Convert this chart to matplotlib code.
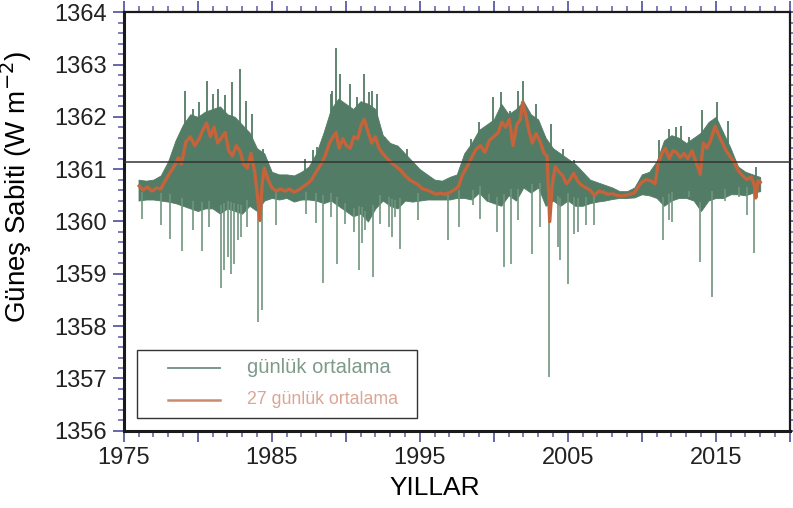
import numpy as np
import matplotlib
matplotlib.use('Agg')
import matplotlib.pyplot as plt
from matplotlib.patches import Rectangle
from matplotlib.ticker import MultipleLocator, FixedLocator

plt.rcParams['font.family'] = ['Liberation Sans', 'DejaVu Sans']

# GÜNLÜK ORTALAMA - ana bant (0.5 yıllık düğümler, alt/üst zarf)
bant_yil = np.arange(1976.0, 2018.01, 0.5)
bant_ust = [1360.80, 1360.78, 1360.80, 1360.88, 1361.15, 1361.55, 1361.85, 1362.05, 1362.00, 1362.10,
            1362.15, 1362.20, 1362.05, 1362.00, 1361.85, 1361.70, 1361.40, 1361.30, 1360.95, 1360.90,
            1360.90, 1360.88, 1360.95, 1361.05, 1361.30, 1361.70, 1362.15, 1362.35, 1362.25, 1362.15,
            1362.30, 1362.25, 1362.15, 1361.65, 1361.50, 1361.45, 1361.30, 1361.15, 1361.00, 1360.90,
            1360.80, 1360.78, 1360.85, 1360.90, 1361.30, 1361.50, 1361.75, 1361.85, 1361.95, 1362.25,
            1362.05, 1362.15, 1362.30, 1362.05, 1361.95, 1361.60, 1361.40, 1361.30, 1361.20, 1361.10,
            1360.95, 1360.80, 1360.75, 1360.70, 1360.65, 1360.58, 1360.58, 1360.65, 1360.90, 1360.95,
            1361.15, 1361.55, 1361.65, 1361.60, 1361.50, 1361.60, 1361.70, 1361.90, 1362.00, 1361.70,
            1361.40, 1361.05, 1360.95, 1360.90, 1360.85]
bant_alt = [1360.40, 1360.42, 1360.42, 1360.40, 1360.38, 1360.35, 1360.30, 1360.25, 1360.20, 1360.25,
            1360.25, 1360.15, 1360.25, 1360.20, 1360.15, 1360.30, 1360.20, 1360.40, 1360.45, 1360.42,
            1360.45, 1360.38, 1360.42, 1360.42, 1360.40, 1360.35, 1360.40, 1360.30, 1360.20, 1360.10,
            1360.15, 1360.00, 1360.25, 1360.40, 1360.30, 1360.25, 1360.40, 1360.38, 1360.40, 1360.42,
            1360.42, 1360.42, 1360.42, 1360.45, 1360.45, 1360.42, 1360.55, 1360.40, 1360.35, 1360.30,
            1360.50, 1360.40, 1360.65, 1360.55, 1360.65, 1360.30, 1360.40, 1360.30, 1360.40, 1360.30,
            1360.30, 1360.35, 1360.38, 1360.40, 1360.43, 1360.45, 1360.45, 1360.46, 1360.52, 1360.50,
            1360.45, 1360.30, 1360.40, 1360.45, 1360.45, 1360.40, 1360.20, 1360.40, 1360.45, 1360.45,
            1360.52, 1360.52, 1360.50, 1360.55, 1360.58]

# GÜNLÜK ORTALAMA - sivri değerler (aşağı ve yukarı)
asagi_yil = [1976.25, 1977.53, 1978.13, 1978.94, 1979.66, 1980.29, 1980.78, 1981.57, 1981.79, 1982.02,
             1982.24, 1982.46, 1982.69, 1982.91, 1983.36, 1984.10, 1984.32, 1985.27, 1987.29, 1987.96,
             1988.47, 1988.97, 1989.41, 1989.97, 1990.54, 1990.87, 1991.10, 1991.32, 1991.84, 1992.33,
             1992.89, 1993.11, 1993.34, 1993.67, 1994.91, 1996.88, 1997.64, 1998.60, 1999.05, 1999.66,
             2000.24, 2000.67, 2001.18, 2001.63, 2002.57, 2003.09, 2003.76, 2004.32, 2004.50, 2004.99,
             2005.44, 2005.67, 2006.23, 2006.79, 2011.45, 2011.83, 2012.05, 2013.18, 2013.96, 2014.75,
             2015.64, 2016.54, 2017.10, 2017.59]
asagi_deger = [1360.05, 1359.93, 1359.67, 1359.44, 1359.83, 1359.44, 1359.89, 1358.72, 1359.07, 1359.32,
               1359.00, 1359.19, 1359.64, 1359.70, 1359.89, 1358.08, 1358.30, 1359.93, 1360.15, 1359.97,
               1358.83, 1360.08, 1359.19, 1359.96, 1359.80, 1359.07, 1359.58, 1359.83, 1358.93, 1359.96,
               1359.90, 1359.70, 1360.08, 1359.48, 1360.02, 1359.64, 1359.89, 1360.31, 1360.05, 1360.40,
               1359.80, 1359.13, 1359.19, 1360.02, 1359.38, 1359.89, 1357.03, 1359.51, 1359.26, 1358.81,
               1359.77, 1359.80, 1359.93, 1359.93, 1359.64, 1360.02, 1359.99, 1360.47, 1359.23, 1358.55,
               1360.40, 1360.47, 1360.12, 1359.39]
yukari_yil = [1979.17, 1979.66, 1980.07, 1980.60, 1981.00, 1981.34, 1981.86, 1982.31, 1982.84, 1983.29,
              1983.65, 1984.44, 1987.22, 1987.78, 1988.07, 1988.97, 1989.08, 1989.35, 1989.64, 1990.31,
              1990.76, 1991.21, 1991.54, 1991.77, 1992.10, 1992.62, 1993.23, 1993.79, 1994.12, 1998.49,
              1998.98, 1999.95, 2000.51, 2001.07, 2001.63, 2001.97, 2002.53, 2002.86, 2003.43, 2003.87,
              2004.10, 2004.66, 2005.44, 2011.16, 2011.83, 2012.28, 2012.68, 2013.18, 2013.62, 2014.07,
              2015.08, 2015.82, 2017.71]
yukari_deger = [1362.50, 1362.15, 1362.28, 1362.69, 1362.44, 1362.53, 1362.41, 1362.66, 1362.92, 1362.31,
                1362.06, 1361.39, 1361.20, 1361.36, 1361.42, 1362.44, 1362.50, 1363.32, 1362.82, 1362.63,
                1362.37, 1362.82, 1362.47, 1362.50, 1362.44, 1361.61, 1361.39, 1361.10, 1361.39, 1361.58,
                1361.90, 1362.37, 1362.47, 1362.12, 1362.50, 1362.68, 1362.02, 1362.25, 1361.64, 1361.87,
                1361.36, 1361.39, 1361.17, 1361.55, 1361.77, 1361.80, 1361.83, 1361.61, 1361.55, 1362.14,
                1362.28, 1361.93, 1361.04]

# 27 GÜNLÜK ORTALAMA
yil_27 = [1976.05, 1976.3, 1976.6, 1976.9, 1977.2, 1977.5, 1977.8, 1978.1, 1978.4, 1978.7, 1978.9,
          1979.2, 1979.5, 1979.8, 1980.1, 1980.35, 1980.6, 1980.85, 1981.1, 1981.35, 1981.6, 1981.85,
          1982.1, 1982.35, 1982.6, 1982.85, 1983.1, 1983.35, 1983.6, 1983.85, 1984.05, 1984.2, 1984.35,
          1984.5, 1984.75, 1985.0, 1985.3, 1985.6, 1985.9, 1986.2, 1986.5, 1986.8, 1987.1, 1987.4,
          1987.7, 1988.0, 1988.3, 1988.6, 1988.9, 1989.15, 1989.35, 1989.55, 1989.8, 1990.05, 1990.3,
          1990.55, 1990.8, 1991.05, 1991.25, 1991.5, 1991.75, 1992.0, 1992.25, 1992.5, 1992.8, 1993.1,
          1993.4, 1993.7, 1994.0, 1994.3, 1994.6, 1994.9, 1995.2, 1995.5, 1995.8, 1996.1, 1996.4,
          1996.7, 1997.0, 1997.3, 1997.6, 1997.9, 1998.2, 1998.5, 1998.8, 1999.1, 1999.4, 1999.7,
          2000.0, 2000.3, 2000.55, 2000.8, 2001.05, 2001.3, 2001.55, 2001.8, 2001.95, 2002.15, 2002.4,
          2002.6, 2002.85, 2003.1, 2003.4, 2003.6, 2003.78, 2003.95, 2004.15, 2004.4, 2004.65, 2004.9,
          2005.15, 2005.4, 2005.65, 2005.9, 2006.2, 2006.5, 2006.8, 2007.1, 2007.4, 2007.7, 2008.0,
          2008.3, 2008.6, 2008.9, 2009.2, 2009.5, 2009.8, 2010.0, 2010.3, 2010.6, 2010.9, 2011.1,
          2011.35, 2011.6, 2011.85, 2012.1, 2012.35, 2012.6, 2012.85, 2013.1, 2013.4, 2013.7, 2013.95,
          2014.15, 2014.4, 2014.65, 2014.95, 2015.2, 2015.45, 2015.7, 2015.95, 2016.2, 2016.5, 2016.8,
          2017.1, 2017.4, 2017.6, 2017.7, 2017.85, 2018.0]
ort_27 = [1360.68, 1360.60, 1360.66, 1360.58, 1360.64, 1360.62, 1360.78, 1360.92, 1361.05, 1361.22, 1361.10,
          1361.52, 1361.62, 1361.45, 1361.58, 1361.75, 1361.88, 1361.62, 1361.80, 1361.50, 1361.60, 1361.70,
          1361.35, 1361.25, 1361.45, 1361.35, 1361.10, 1361.02, 1361.30, 1360.95, 1360.45, 1360.02, 1360.70,
          1361.02, 1360.80, 1360.65, 1360.58, 1360.62, 1360.58, 1360.62, 1360.56, 1360.60, 1360.66, 1360.72,
          1360.80, 1360.95, 1361.08, 1361.25, 1361.50, 1361.62, 1361.70, 1361.40, 1361.58, 1361.45, 1361.40,
          1361.62, 1361.58, 1361.85, 1361.95, 1361.72, 1361.50, 1361.62, 1361.40, 1361.30, 1361.20, 1361.12,
          1361.05, 1360.98, 1360.88, 1360.80, 1360.75, 1360.70, 1360.62, 1360.60, 1360.56, 1360.52, 1360.54,
          1360.52, 1360.55, 1360.60, 1360.66, 1360.90, 1361.05, 1361.22, 1361.38, 1361.45, 1361.32, 1361.55,
          1361.62, 1361.70, 1361.90, 1361.80, 1361.95, 1361.45, 1361.85, 1361.95, 1362.28, 1362.05, 1361.70,
          1361.50, 1361.68, 1361.55, 1361.30, 1361.25, 1360.00, 1360.70, 1361.05, 1360.95, 1360.88, 1360.72,
          1360.80, 1360.92, 1360.78, 1360.70, 1360.65, 1360.60, 1360.50, 1360.58, 1360.56, 1360.52, 1360.53,
          1360.50, 1360.49, 1360.50, 1360.52, 1360.55, 1360.68, 1360.75, 1360.80, 1360.78, 1360.72, 1361.10,
          1361.30, 1361.40, 1361.20, 1361.35, 1361.32, 1361.22, 1361.30, 1361.20, 1361.35, 1361.10, 1360.90,
          1361.50, 1361.40, 1361.55, 1361.82, 1361.65, 1361.50, 1361.35, 1361.25, 1361.15, 1360.98, 1360.88,
          1360.80, 1360.85, 1360.70, 1360.45, 1360.78, 1360.75]

ortalama_cizgi = 1361.13
etiketler = ['günlük ortalama', '27 günlük ortalama']

yesil = '#527c65'
yesil_acik = '#6f957f'
turuncu = '#c5633b'
tik_renk = '#5b5aa6'

fig = plt.figure(figsize=(7.93, 5.08), dpi=100)
ax = fig.add_axes([0.156, 0.152, 0.84, 0.824])

# günlük seri: bant + sivri değerler
ax.fill_between(bant_yil, bant_alt, bant_ust, color=yesil, linewidth=0.6, zorder=2)
ank_asagi = np.interp(asagi_yil, bant_yil, bant_alt) + 0.15
ank_yukari = np.interp(yukari_yil, bant_yil, bant_ust) - 0.15
ax.vlines(asagi_yil, asagi_deger, ank_asagi, color=yesil_acik, linewidth=1.2, zorder=2)
ax.vlines(yukari_yil, ank_yukari, yukari_deger, color=yesil, linewidth=1.3, zorder=2)

ax.plot(yil_27, ort_27, color=turuncu, linewidth=2.4, zorder=3)

ax.axhline(ortalama_cizgi, color='#333333', linewidth=1.1, zorder=4)

ax.set_xlim(1975, 2020)
ax.set_ylim(1356, 1364)
ax.xaxis.set_major_locator(FixedLocator(np.arange(1975, 2021, 5)))
ax.xaxis.set_minor_locator(MultipleLocator(1))
ax.set_xticklabels(['1975', '', '1985', '', '1995', '', '2005', '', '2015', ''])
ax.yaxis.set_major_locator(MultipleLocator(1))
ax.yaxis.set_minor_locator(MultipleLocator(0.2))

ax.tick_params(which='both', direction='out', color=tik_renk, top=True, right=True,
               labelsize=17, labelcolor='#222222')
ax.tick_params(which='major', length=8, width=1.3, pad=4)
ax.tick_params(which='minor', length=4, width=1.1)
for s in ['left', 'bottom']:
    ax.spines[s].set_linewidth(2.2)
for s in ['top', 'right']:
    ax.spines[s].set_linewidth(1.6)
for s in ax.spines.values():
    s.set_color('#1a1a1a')

ax.set_ylabel('Güneş Sabiti (W m$^{-2}$)', fontsize=20)
ax.yaxis.set_label_coords(-0.134, 0.582)
ax.set_xlabel('YILLAR', fontsize=19)
ax.xaxis.set_label_coords(0.467, -0.108)

# gösterge kutusu
ax.add_patch(Rectangle((0.0195, 0.031), 0.4205, 0.162, transform=ax.transAxes,
                       fill=True, facecolor='white', edgecolor='#333333', linewidth=1.0, zorder=5))
ax.plot([0.0661, 0.1441], [0.150, 0.150], transform=ax.transAxes, color='#6f8f7f',
        linewidth=1.3, zorder=6)
ax.plot([0.0661, 0.1441], [0.074, 0.074], transform=ax.transAxes, color='#c98a70',
        linewidth=1.8, zorder=6)
ax.text(0.1847, 0.150, etiketler[0], transform=ax.transAxes, fontsize=14.5, color='#7d9a8a',
        va='center', ha='left', zorder=6)
ax.text(0.1847, 0.074, etiketler[1], transform=ax.transAxes, fontsize=12.8, color='#dba696',
        va='center', ha='left', zorder=6)

plt.savefig('out.png', dpi=100)
